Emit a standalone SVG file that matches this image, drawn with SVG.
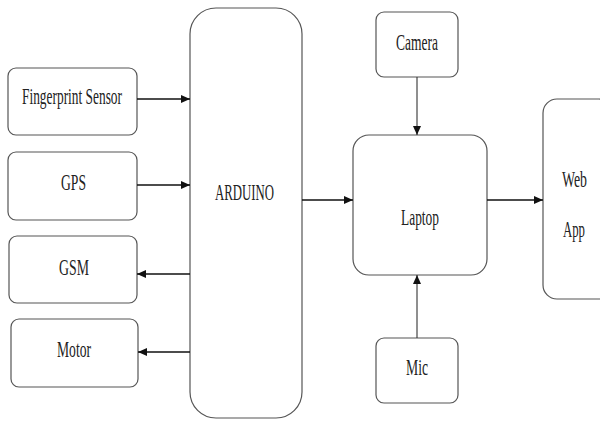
<svg xmlns="http://www.w3.org/2000/svg" width="600" height="421" viewBox="0 0 600 421">
<style>
.box{fill:#fff;stroke:#555;stroke-width:1.2}
.t{font-family:"Liberation Serif","Times New Roman",serif;font-size:24px;fill:#222;lengthAdjust:spacingAndGlyphs}
.c{stroke:#111;stroke-width:1.6;fill:none}
.c2{stroke:#333;stroke-width:1.1;fill:none}
</style>
<defs>
<marker id="ah" markerWidth="10" markerHeight="10" refX="9" refY="5" orient="auto" markerUnits="userSpaceOnUse">
<path d="M0,1 L9,5 L0,9 Z" fill="#111"/>
</marker>
</defs>
<rect width="600" height="421" fill="#fff"/>
<g id="fingerprint"><rect class="box" x="8" y="68" width="129" height="67" rx="8"/><text class="t" x="22" y="104" textLength="100" lengthAdjust="spacingAndGlyphs">Fingerprint Sensor</text></g>
<g id="gps"><rect class="box" x="8" y="152" width="129" height="68" rx="8"/><text class="t" x="61" y="190" textLength="25" lengthAdjust="spacingAndGlyphs">GPS</text></g>
<g id="gsm"><rect class="box" x="9" y="236" width="128" height="67" rx="8"/><text class="t" x="59" y="275" textLength="30" lengthAdjust="spacingAndGlyphs">GSM</text></g>
<g id="motor"><rect class="box" x="11" y="319" width="127" height="68" rx="8"/><text class="t" x="57" y="357" textLength="34" lengthAdjust="spacingAndGlyphs">Motor</text></g>
<g id="arduino"><rect class="box" x="190" y="8" width="112" height="410" rx="26"/><text class="t" x="215" y="200" textLength="59" lengthAdjust="spacingAndGlyphs">ARDUINO</text></g>
<g id="camera"><rect class="box" x="376" y="12" width="82" height="65" rx="8"/><text class="t" x="396" y="50" textLength="42" lengthAdjust="spacingAndGlyphs">Camera</text></g>
<g id="laptop"><rect class="box" x="353" y="135" width="134" height="140" rx="16"/><text class="t" x="401" y="225" textLength="38" lengthAdjust="spacingAndGlyphs">Laptop</text></g>
<g id="mic"><rect class="box" x="376" y="338" width="82" height="65" rx="8"/><text class="t" x="406" y="375" textLength="22" lengthAdjust="spacingAndGlyphs">Mic</text></g>
<g id="webapp"><rect class="box" x="543" y="99" width="70" height="200" rx="14"/><text class="t" x="562" y="187" textLength="25" lengthAdjust="spacingAndGlyphs">Web</text><text class="t" x="563" y="237" textLength="22" lengthAdjust="spacingAndGlyphs">App</text></g>
<g id="connectors">
<line class="c" x1="137" y1="99" x2="190" y2="99" marker-end="url(#ah)"/>
<line class="c" x1="137" y1="185" x2="190" y2="185" marker-end="url(#ah)"/>
<line class="c" x1="190" y1="274" x2="137" y2="274" marker-end="url(#ah)"/>
<line class="c" x1="190" y1="352" x2="138" y2="352" marker-end="url(#ah)"/>
<line class="c" x1="302" y1="200" x2="353" y2="200" marker-end="url(#ah)"/>
<line class="c" x1="487" y1="200" x2="543" y2="200" marker-end="url(#ah)"/>
<line class="c2" x1="417" y1="77" x2="417" y2="135" marker-end="url(#ah)"/>
<line class="c2" x1="417" y1="338" x2="417" y2="275" marker-end="url(#ah)"/>
</g>
</svg>
